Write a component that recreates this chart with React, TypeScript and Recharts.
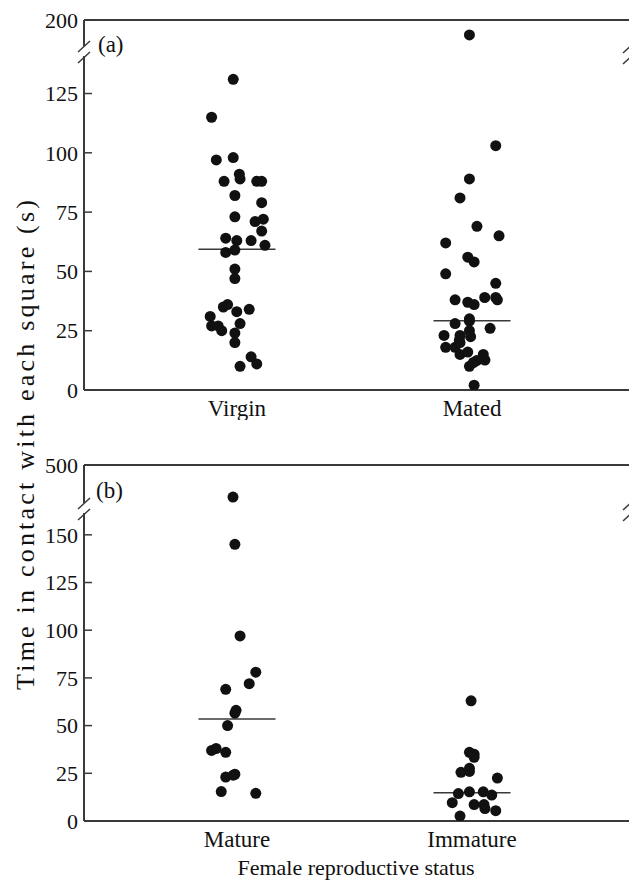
import React from "react";
import { ReferenceLine, Scatter, ScatterChart, XAxis, YAxis } from "recharts";

// categories
const catsA = ["Virgin", "Mated"];
const catsB = ["Mature", "Immature"];

// (a) time in contact (s) and horizontal jitter of each dot
const virginTime = [131, 115, 97, 98, 88, 91, 89, 88, 88, 82, 79, 73, 71, 72, 67, 64, 63, 63, 61, 58, 59, 51, 47, 35, 36, 33, 34, 31, 27, 27, 25, 28, 24, 20, 14, 11, 10];
const virginJitter = [-0.016, -0.108, -0.088, -0.016, -0.055, 0.01, 0.013, 0.084, 0.105, -0.009, 0.105, -0.009, 0.077, 0.112, 0.105, -0.048, -0.001, 0.06, 0.119, -0.048, -0.009, -0.009, -0.009, -0.058, -0.04, -0.001, 0.052, -0.114, -0.108, -0.08, -0.065, 0.013, -0.009, -0.009, 0.06, 0.084, 0.013];
const matedTime = [174, 103, 89, 81, 69, 65, 62, 56, 54, 49, 45, 38, 37, 36, 39, 39, 38, 30, 29, 28, 26, 25, 22.5, 23, 23, 21, 18, 18, 20, 15, 16, 15, 12.6, 12.4, 10, 11.6, 2];
const matedJitter = [-0.011, 0.101, -0.011, -0.051, 0.021, 0.115, -0.112, -0.018, 0.009, -0.112, 0.101, -0.072, -0.018, 0.009, 0.054, 0.101, 0.108, -0.011, -0.011, -0.072, 0.077, -0.011, -0.006, -0.119, -0.051, -0.054, -0.112, -0.072, -0.051, -0.051, -0.018, 0.048, 0.055, 0.02, -0.011, 0.006, 0.009];

// (b)
const matureTime = [250, 145, 97, 78, 72, 69, 58, 56.5, 50, 37, 38, 36, 23, 24, 24.5, 15.4, 14.5];
const matureJitter = [-0.017, -0.009, 0.013, 0.08, 0.052, -0.048, -0.004, -0.009, -0.04, -0.108, -0.089, -0.048, -0.048, -0.016, -0.009, -0.067, 0.08];
const immatureTime = [63, 36, 35, 33.4, 25.5, 26, 27.6, 22.5, 14.4, 15.3, 15.3, 13.6, 9.6, 8.6, 8.6, 6.5, 5.4, 2.6];
const immatureJitter = [-0.004, -0.011, 0.009, 0.009, -0.047, -0.011, -0.011, 0.108, -0.058, -0.011, 0.048, 0.084, -0.084, 0.009, 0.051, 0.055, 0.101, -0.051];

const mediansA = [59.3, 29.2];
const mediansB = [53.5, 14.8];

const ticksA = [0, 25, 50, 75, 100, 125, 200];
const ticksB = [0, 25, 50, 75, 100, 125, 150, 500];

// broken y axis: values above `cut` are squeezed so that `max` lands at `top`
type Brk = { cut: number; top: number; max: number };
const breakA: Brk = { cut: 142, top: 156, max: 200 };
const breakB: Brk = { cut: 164, top: 186.6, max: 500 };

const toShown = (v: number, b: Brk) =>
  v <= b.cut ? v : b.cut + ((v - b.cut) * (b.top - b.cut)) / (b.max - b.cut);
const fromShown = (s: number, b: Brk) =>
  s <= b.cut ? s : b.cut + ((s - b.cut) * (b.max - b.cut)) / (b.top - b.cut);

const points = (vals: number[], jit: number[], idx: number, b: Brk) =>
  vals.map((v, i) => ({ x: idx + 1 + jit[i], y: toShown(v, b) }));

const W = 629;
const PLOT_LEFT = 84;
const X_DOMAIN: [number, number] = [0.349, 2.668];
const HALF = 0.164;
const INK = "#111";
const AXIS = "#3a3a3a";
const FONT = "'Liberation Serif', 'Times New Roman', serif";

function YTick(p: any) {
  const { y, payload, brk } = p;
  return (
    <g>
      <line x1={PLOT_LEFT} x2={PLOT_LEFT + 8} y1={y} y2={y} stroke={AXIS} strokeWidth={1.5} />
      <text x={PLOT_LEFT - 6} y={y} dy="0.35em" textAnchor="end" fontFamily={FONT} fontSize={22} fill={INK}>
        {Math.round(fromShown(payload.value, brk))}
      </text>
    </g>
  );
}

function XTick(p: any) {
  const { x, y, payload, cats } = p;
  return (
    <text x={x} y={y + 24} textAnchor="middle" fontFamily={FONT} fontSize={23} fill={INK}>
      {cats[payload.value - 1]}
    </text>
  );
}

const dot = (p: any) => <circle cx={p.cx} cy={p.cy} r={5.5} fill={INK} />;

function Panel(props: {
  top: number;
  plotH: number;
  cats: string[];
  groups: { x: number; y: number }[][];
  medians: number[];
  ticks: number[];
  brk: Brk;
}) {
  const { top, plotH, cats, groups, medians, ticks, brk } = props;
  return (
    <div style={{ position: "absolute", left: 0, top }}>
      <ScatterChart width={W} height={20 + plotH + 30} margin={{ top: 20, right: 0, bottom: 0, left: 0 }}>
        <XAxis
          type="number"
          dataKey="x"
          domain={X_DOMAIN}
          allowDataOverflow
          ticks={[1, 2]}
          interval={0}
          height={30}
          tickLine={false}
          tickSize={0}
          axisLine={{ stroke: AXIS, strokeWidth: 2 }}
          tick={(p: any) => <XTick {...p} cats={cats} />}
        />
        <YAxis
          type="number"
          dataKey="y"
          domain={[0, brk.top]}
          allowDataOverflow
          ticks={ticks.map((t) => toShown(t, brk))}
          interval={0}
          width={PLOT_LEFT}
          tickLine={false}
          tickSize={0}
          axisLine={{ stroke: AXIS, strokeWidth: 2 }}
          tick={(p: any) => <YTick {...p} brk={brk} />}
        />
        <ReferenceLine y={brk.top} stroke={AXIS} strokeWidth={2} />
        {groups.map((g, i) => (
          <Scatter key={i} data={g} isAnimationActive={false} shape={dot} />
        ))}
        {medians.map((m, i) => (
          <ReferenceLine
            key={"m" + i}
            segment={[
              { x: i + 1 - HALF, y: toShown(m, brk) },
              { x: i + 1 + HALF, y: toShown(m, brk) },
            ]}
            stroke={AXIS}
            strokeWidth={1.5}
          />
        ))}
      </ScatterChart>
    </div>
  );
}

function BreakMarks({ x, y }: { x: number; y: number }) {
  return (
    <g>
      <rect x={x - 3} y={y - 5} width={6} height={10} fill="#fff" />
      <line x1={x - 6} y1={y + 1} x2={x + 6} y2={y - 10} stroke={AXIS} strokeWidth={1.5} />
      <line x1={x - 6} y1={y + 12} x2={x + 6} y2={y + 1} stroke={AXIS} strokeWidth={1.5} />
    </g>
  );
}

export default function App() {
  return (
    <div style={{ position: "absolute", left: 0, top: 0, width: W, height: 880, overflow: "hidden", background: "#fff" }}>
      <Panel
        top={0}
        plotH={370}
        cats={catsA}
        groups={[points(virginTime, virginJitter, 0, breakA), points(matedTime, matedJitter, 1, breakA)]}
        medians={mediansA}
        ticks={ticksA}
        brk={breakA}
      />
      <Panel
        top={445}
        plotH={356}
        cats={catsB}
        groups={[points(matureTime, matureJitter, 0, breakB), points(immatureTime, immatureJitter, 1, breakB)]}
        medians={mediansB}
        ticks={ticksB}
        brk={breakB}
      />
      <svg width={W} height={880} style={{ position: "absolute", left: 0, top: 0, pointerEvents: "none" }}>
        <BreakMarks x={PLOT_LEFT} y={51} />
        <BreakMarks x={629} y={52} />
        <BreakMarks x={PLOT_LEFT} y={508} />
        <BreakMarks x={629} y={509} />
        <text x={98} y={52} fontFamily={FONT} fontSize={23} fill={INK}>(a)</text>
        <text x={96} y={498} fontFamily={FONT} fontSize={23} fill={INK}>(b)</text>
        <text x={356} y={875} textAnchor="middle" fontFamily={FONT} fontSize={22} fill={INK}>
          Female reproductive status
        </text>
        <text
          transform="rotate(-90)"
          x={-445}
          y={34}
          textAnchor="middle"
          textLength={490}
          lengthAdjust="spacing"
          fontFamily={FONT}
          fontSize={26}
          fill={INK}
        >
          Time in contact with each square (s)
        </text>
      </svg>
    </div>
  );
}
